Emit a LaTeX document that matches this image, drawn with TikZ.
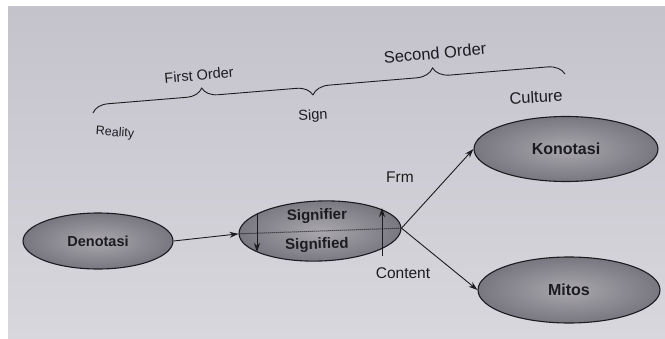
\documentclass[tikz,border=0pt]{standalone}
\usepackage{fontspec}
\setsansfont{Liberation Sans}
\usetikzlibrary{shapes.geometric, positioning, arrows.meta, decorations.pathreplacing, calc}

\definecolor{paper}{RGB}{216,215,221}
\definecolor{paperdark}{RGB}{196,194,203}
\definecolor{ovalin}{RGB}{170,168,174}
\definecolor{ovalout}{RGB}{120,118,126}
\definecolor{ink}{RGB}{28,28,32}

\begin{document}
\begin{tikzpicture}[x=1pt, y=-1pt,
every node/.style={font=\sffamily, text=ink},
oval/.style={ellipse, draw=ink, line width=1.1pt, inner sep=0pt, inner color=ovalin, outer color=ovalout},
oval text/.style={font=\sffamily\bfseries\fontsize{#1}{#1}\selectfont},
tag/.style={font=\sffamily\fontsize{#1}{#1}\selectfont},
arrow/.style={-{Stealth[length=9pt, width=6pt]}, line width=0.9pt, draw=ink},
order brace/.style={decorate, decoration={brace, amplitude=#1}, line width=0.9pt, draw=ink},
]

% Page of the book
\useasboundingbox (0,0) rectangle (665,338);
\fill[white] (0,0) rectangle (665,338);
\shade[top color=paperdark, bottom color=paper] (8,6) rectangle (665,338);

% First order sign
\node[oval, minimum width=150pt, minimum height=56pt] (den) at (98,241) {};
\node[oval text=14.5] at (den.center) {Denotasi};

% Signifier / signified
\node[oval, minimum width=162pt, minimum height=60pt, rotate=2] (sign) at (320,231) {};
\node[oval text=15, rotate=2] (sfr) at ($(sign.center)+(-3,-15)$) {Signifier};
\node[oval text=15, rotate=2] (sfd) at ($(sign.center)+(-3,14)$) {Signified};
\draw[densely dotted, line width=1pt, draw=ink] (sign.west) -- (sign.east);

% Arrows inside the sign
\coordinate (dn top) at (257,213);
\coordinate (dn bot) at (257,252);
\coordinate (up bot) at (382,256);
\coordinate (up top) at (382,208);
\draw[arrow] (dn top) -- (dn bot);
\draw[arrow] (up bot) -- (up top);

% Second order
\node[oval, minimum width=184pt, minimum height=65pt] (kon) at (566,149) {};
\node[oval text=16] at (kon.center) {Konotasi};
\node[oval, minimum width=182pt, minimum height=66pt] (mit) at (569,290) {};
\node[oval text=16] at (mit.center) {Mitos};

% Connectors
\draw[arrow] (den.east) -- (sign.west);
\draw[arrow] (sign.east) -- (kon.west);
\draw[arrow] (sign.east) -- (mit.west);
\node[tag=15.5] (frm) at (400,177) {Frm};
\node[tag=15.5] (cnt) at (403,273) {Content};

% Braces over the orders
\coordinate (real end) at (93,113);
\coordinate (sign end) at (313,95);
\coordinate (cult end) at (565,74);
\draw[order brace=16pt] (real end) -- (sign end);
\draw[order brace=17pt, decoration={aspect=0.48}] (sign end) -- (cult end);

% Labels of the orders
\node[tag=14.5, rotate=5] (first) at (199,75) {First Order};
\node[tag=16.5, rotate=5] (second) at (435,53) {Second Order};
\node[tag=12.5, rotate=-4] (reality) at (115,133) {Reality};
\node[tag=14.5, rotate=3] (signlbl) at (313,116) {Sign};
\node[tag=16.5, rotate=3] (culture) at (536,97) {Culture};
\end{tikzpicture}
\end{document}
